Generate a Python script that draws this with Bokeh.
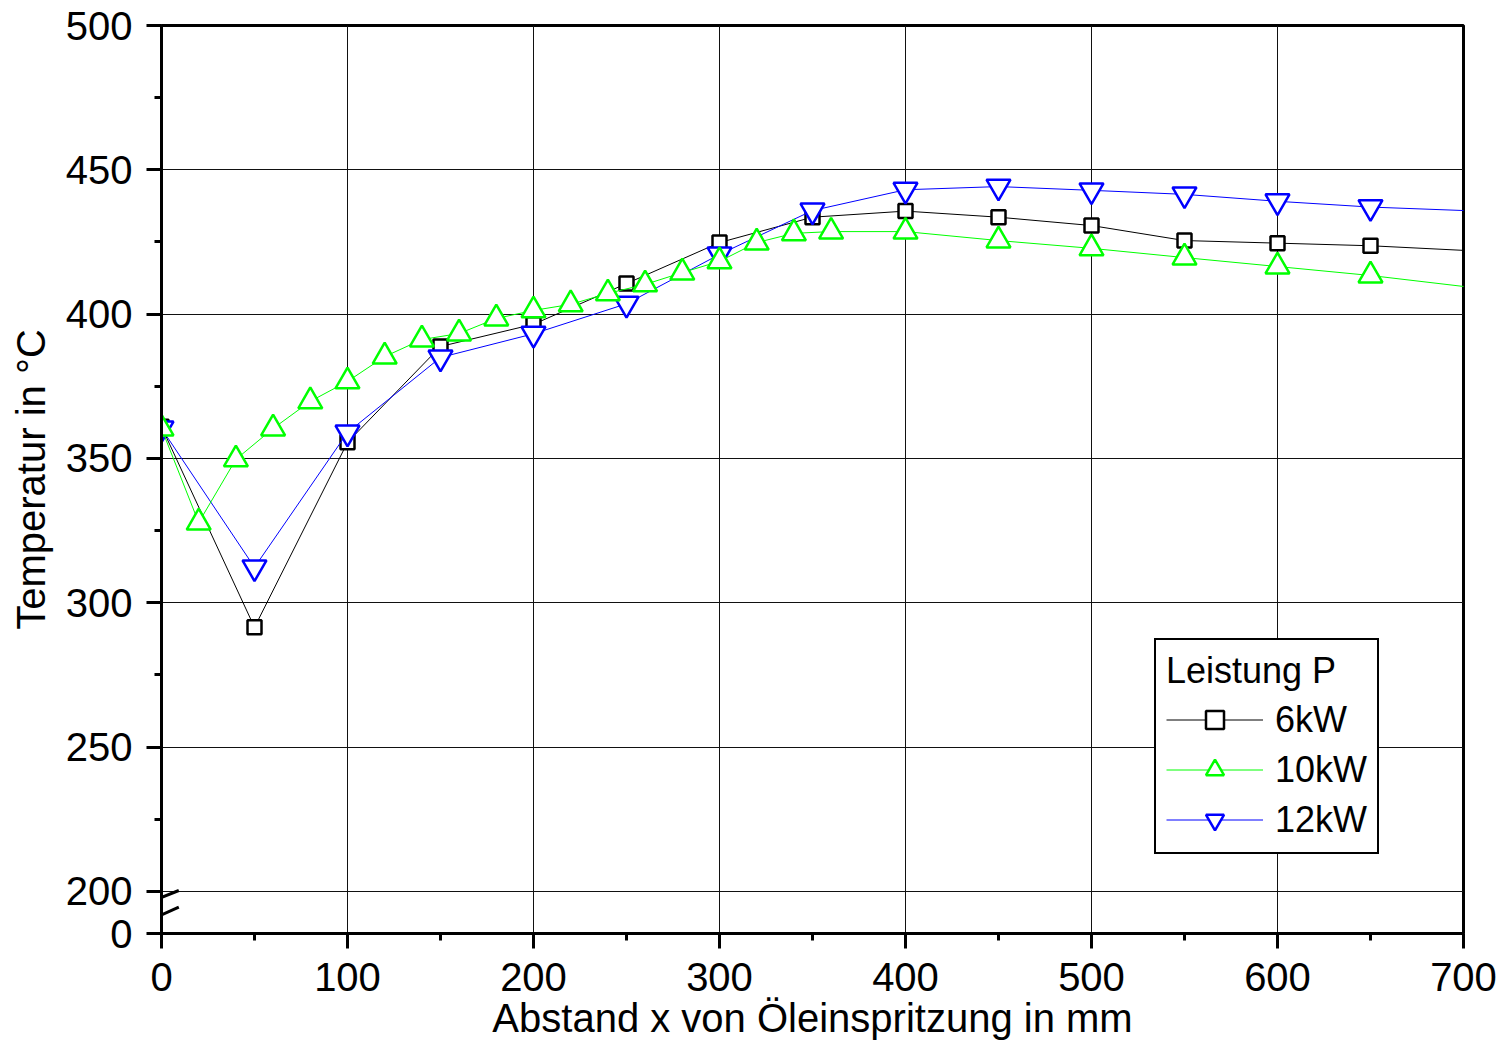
from bokeh.plotting import figure
from bokeh.models import FixedTicker, Range1d, Legend, LegendItem, Arrow
from bokeh.embed import file_html
from bokeh.resources import INLINE

# ---------------- data ----------------
x_6kw = [0, 50, 100, 150, 200, 250, 300, 350, 400, 450, 500, 550, 600, 650, 750]
t_6kw = [361.0, 291.5, 355.6, 388.8, 396.5, 410.6, 424.8, 433.6, 435.7, 433.6, 430.7, 425.5, 424.6, 423.7, 420.5]

x_10kw = [0, 20, 40, 60, 80, 100, 120, 140, 160, 180, 200, 220, 240, 260, 280, 300,
          320, 340, 360, 400, 450, 500, 550, 600, 650, 750]
t_10kw = [360.4, 327.8, 349.7, 360.4, 369.8, 376.7, 385.3, 391.2, 393.3, 398.5, 401.3, 403.4,
          407.2, 410.3, 414.4, 418.3, 424.8, 428.0, 428.6, 428.6, 425.5, 422.8, 419.6, 416.5,
          413.4, 405.8]

x_12kw = [0, 50, 100, 150, 200, 250, 300, 350, 400, 450, 500, 550, 600, 650, 750]
t_12kw = [360.4, 312.3, 359.0, 385.0, 393.2, 403.6, 420.7, 435.9, 443.1, 444.2, 442.9, 441.5, 439.1, 437.1, 434.7]

series_labels = ["6kW", "10kW", "12kW"]
legend_title = "Leistung P"

x_ticks = [0, 100, 200, 300, 400, 500, 600, 700]
x_minor = [50, 150, 250, 350, 450, 550, 650]
y_ticks = [0, 200, 250, 300, 350, 400, 450, 500]
y_minor = [225, 275, 325, 375, 425, 475]

x_label = "Abstand x von Öleinspritzung in mm"
y_label = "Temperatur in °C"

# ---------------- layout helpers ----------------
FONT = "Liberation Sans"
BREAK_POS = 185.45          # display position of the value 0 below the axis break


def ypos(v):
    return v if v >= 200 else BREAK_POS


p = figure(width=1503, height=1042,
           x_range=Range1d(0, 700), y_range=Range1d(BREAK_POS, 500),
           output_backend="svg", toolbar_location=None,
           min_border_left=161, min_border_right=40,
           min_border_top=25, min_border_bottom=109)

p.outline_line_color = "black"
p.outline_line_width = 3
p.outline_line_alpha = 1
p.background_fill_color = "white"
p.border_fill_color = "white"

xt = FixedTicker(ticks=x_ticks, minor_ticks=x_minor)
yt = FixedTicker(ticks=[ypos(v) for v in y_ticks], minor_ticks=y_minor)

p.xaxis.ticker = xt
p.yaxis.ticker = yt
p.xgrid.ticker = xt
p.ygrid.ticker = yt
for g in (p.xgrid, p.ygrid):
    g.grid_line_color = "#111111"
    g.grid_line_width = 1
    g.grid_line_alpha = 1

p.yaxis.major_label_overrides = {ypos(v): str(v) for v in y_ticks}

for ax in (p.xaxis, p.yaxis):
    ax.axis_line_width = 3
    ax.axis_line_color = "black"
    ax.major_tick_out = 15
    ax.major_tick_in = 0
    ax.minor_tick_out = 7
    ax.minor_tick_in = 0
    ax.major_tick_line_width = 3
    ax.minor_tick_line_width = 3
    ax.major_tick_line_color = "black"
    ax.minor_tick_line_color = "black"
    ax.major_label_text_font = FONT
    ax.major_label_text_font_size = "40px"
    ax.major_label_text_color = "black"
    ax.axis_label_text_font = FONT
    ax.axis_label_text_font_size = "40px"
    ax.axis_label_text_font_style = "normal"
    ax.axis_label_text_color = "black"

p.xaxis.major_label_standoff = 14
p.yaxis.major_label_standoff = 14
p.yaxis.axis_label = y_label
p.yaxis.axis_label_standoff = 10
p.xaxis.axis_label = x_label
p.xaxis.axis_label_standoff = 2

# ---------------- series ----------------
styles = [
    (x_6kw, t_6kw, "black", "square", 14),
    (x_12kw, t_12kw, "#0000ff", "inverted_triangle", 24),
    (x_10kw, t_10kw, "#00ff00", "triangle", 24),
]
order_labels = [series_labels[0], series_labels[2], series_labels[1]]
items = {}
for (xs, ys, col, mk, sz), lab in zip(styles, order_labels):
    yy = [ypos(v) for v in ys]
    l = p.line(xs, yy, line_color=col, line_width=1)
    s = p.scatter(xs, yy, marker=mk, size=sz, line_color=col, line_width=2.5,
                  fill_color="white")
    items[lab] = LegendItem(label=lab, renderers=[l, s])

legend = Legend(items=[items[k] for k in series_labels], title=legend_title,
                location=(993, 79))
legend.border_line_color = "black"
legend.border_line_width = 2
legend.border_line_alpha = 1
legend.background_fill_color = "white"
legend.background_fill_alpha = 1
legend.label_text_font = FONT
legend.label_text_font_size = "36px"
legend.label_text_color = "black"
legend.title_text_font = FONT
legend.title_text_font_size = "36px"
legend.title_text_font_style = "normal"
legend.title_text_color = "black"
legend.glyph_width = 97
legend.glyph_height = 45
legend.label_height = 45
legend.label_standoff = 12
legend.padding = 10
legend.spacing = 5
legend.title_standoff = 5
legend.margin = 0
p.add_layout(legend)

# ---------------- axis break marks ----------------
for ys0, ys1 in [(195.74, 200.35), (189.36, 194.56)]:
    p.add_layout(Arrow(start=None, end=None, x_start=-8.6, y_start=ys0,
                       x_end=9.3, y_end=ys1, line_width=3, line_color="black"))

open("out.html", "w").write(file_html(p, INLINE))
